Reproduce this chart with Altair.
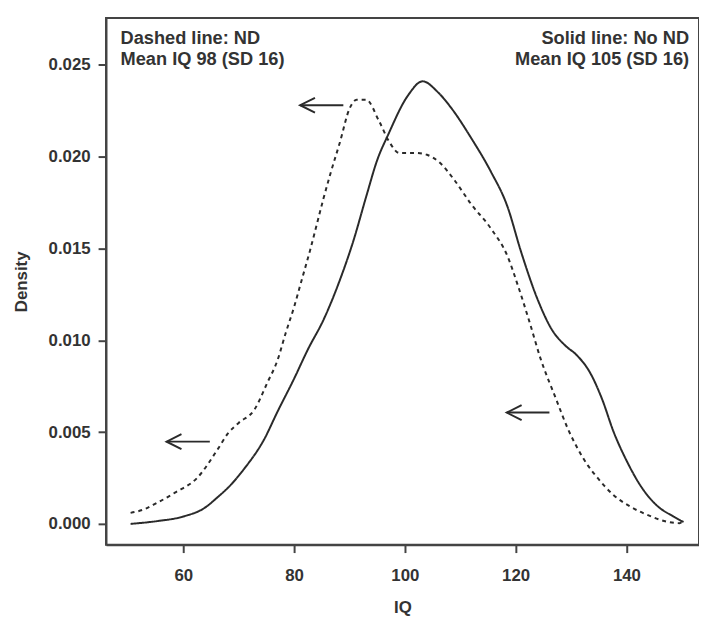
import altair as alt
import pandas as pd

# Solid line: No ND
solid_iq = [50.5, 55.5, 60, 64, 66, 68.5, 71, 74.6, 77, 80, 82.5, 85.3, 88.3, 90.7, 93.1,
            95, 97, 100.5, 103.2, 106, 108.5, 112, 115.5, 118.5, 121, 124, 126.5, 129,
            131, 133.5, 135.6, 137.7, 140.1, 142.5, 145.5, 148.5, 150.3]
solid_density = [0.0000, 0.00016, 0.0004, 0.0009, 0.0014, 0.0021, 0.0030, 0.0046, 0.0061,
                 0.0079, 0.0095, 0.0111, 0.0133, 0.0154, 0.0179, 0.0198, 0.0212, 0.0233,
                 0.0241, 0.0235, 0.0226, 0.0210, 0.0192, 0.0173, 0.0148, 0.0122, 0.0106,
                 0.0097, 0.0092, 0.0082, 0.0068, 0.0050, 0.0034, 0.0021, 0.0010, 0.0004,
                 0.0001]

# Dashed line: ND
dashed_iq = [50.5, 53, 55, 58.5, 62.5, 66.3, 68, 70, 72.8, 75.2, 77, 78.5, 80, 81.4, 82.9,
             84.1, 85.3, 86.5, 88.3, 90, 91.3, 93, 95.4, 97.2, 99, 102, 104, 106.2, 109,
             112, 115.5, 118.5, 120.5, 122.5, 124.5, 127.3, 129.4, 131.2, 133, 134.8,
             137.7, 140.7, 143.7, 147.2, 149.6, 150.3]
dashed_density = [0.0006, 0.0008, 0.0011, 0.0017, 0.0025, 0.0041, 0.0049, 0.0055, 0.0062,
                  0.0077, 0.0089, 0.0104, 0.0118, 0.0133, 0.0149, 0.0163, 0.0177, 0.0190,
                  0.0208, 0.0226, 0.0231, 0.0231, 0.0219, 0.0208, 0.0202, 0.0202, 0.0201,
                  0.0197, 0.0187, 0.0174, 0.0161, 0.0146, 0.0129, 0.0110, 0.0090, 0.0068,
                  0.0052, 0.0041, 0.0032, 0.0025, 0.00156, 0.00094, 0.0005, 0.00013,
                  0.00004, 0.0002]

x_ticks = [60, 80, 100, 120, 140]
y_ticks = [0.000, 0.005, 0.010, 0.015, 0.020, 0.025]

# Arrows (tip on the left)
arrow_tip_iq = [81.1, 57.0, 118.4]
arrow_tail_iq = [88.9, 64.8, 126.1]
arrow_density = [0.0228, 0.00448, 0.00606]

left_note = ["Dashed line: ND", "Mean IQ 98 (SD 16)"]
right_note = ["Solid line: No ND", "Mean IQ 105 (SD 16)"]

INK = "#2a2a2a"
TXT = "#333333"
FONT = "Liberation Sans"

curves = pd.concat([
    pd.DataFrame({"iq": solid_iq, "density": solid_density, "group": "No ND"}),
    pd.DataFrame({"iq": dashed_iq, "density": dashed_density, "group": "ND"}),
])
arrows = pd.DataFrame({"iq": arrow_tip_iq, "iq_end": arrow_tail_iq, "density": arrow_density})

xscale = alt.Scale(domain=[46.06, 153.1], nice=False, zero=False)
yscale = alt.Scale(domain=[-0.00113, 0.02755], nice=False, zero=False)
xaxis = alt.Axis(values=x_ticks, labelPadding=15, titlePadding=17)
yaxis = alt.Axis(values=y_ticks, format=".3f", labelPadding=8, titlePadding=18)

lines = alt.Chart(curves).mark_line(color=INK, strokeWidth=2, interpolate="monotone").encode(
    x=alt.X("iq:Q", scale=xscale, axis=xaxis, title="IQ"),
    y=alt.Y("density:Q", scale=yscale, axis=yaxis, title="Density"),
    strokeDash=alt.StrokeDash("group:N", scale=alt.Scale(domain=["No ND", "ND"], range=[[1, 0], [4, 4]]), legend=None),
    detail="group:N",
)

shafts = alt.Chart(arrows).mark_rule(color=INK, strokeWidth=2).encode(
    x=alt.X("iq:Q", scale=xscale, title="IQ"),
    x2="iq_end:Q",
    y=alt.Y("density:Q", scale=yscale, title="Density"),
)

heads = alt.Chart(arrows).mark_point(
    shape="M2,-1L0,0L2,1", filled=False, color=INK, strokeWidth=2, size=225, opacity=1
).encode(
    x=alt.X("iq:Q", scale=xscale, title="IQ"),
    y=alt.Y("density:Q", scale=yscale, title="Density"),
)

note_l = alt.Chart().mark_text(
    text=left_note, align="left", baseline="alphabetic", font=FONT, fontSize=18.4,
    fontWeight="bold", lineHeight=20.6, color=TXT
).encode(x=alt.value(14.7), y=alt.value(26.7))

note_r = alt.Chart().mark_text(
    text=right_note, align="right", baseline="alphabetic", font=FONT, fontSize=18.4,
    fontWeight="bold", lineHeight=20.6, color=TXT
).encode(x=alt.value(589), y=alt.value(26.7))

chart = alt.layer(lines, shafts, heads, note_l, note_r).properties(
    width=599, height=532,
    padding={"left": 99, "top": 7, "right": 0, "bottom": 70},
    autosize=alt.AutoSizeParams(type="none"),
).configure_view(
    stroke="#444", strokeWidth=2
).configure_axis(
    grid=False, domainColor="#444", domainWidth=2, tickColor="#444", tickWidth=2, tickSize=8,
    labelFont=FONT, labelFontSize=17, labelFontWeight="bold", labelColor=TXT,
    titleFont=FONT, titleFontSize=17, titleColor=TXT, titleFontWeight="bold",
)

chart.save("out.html", embed_options={"renderer": "svg", "actions": False})
